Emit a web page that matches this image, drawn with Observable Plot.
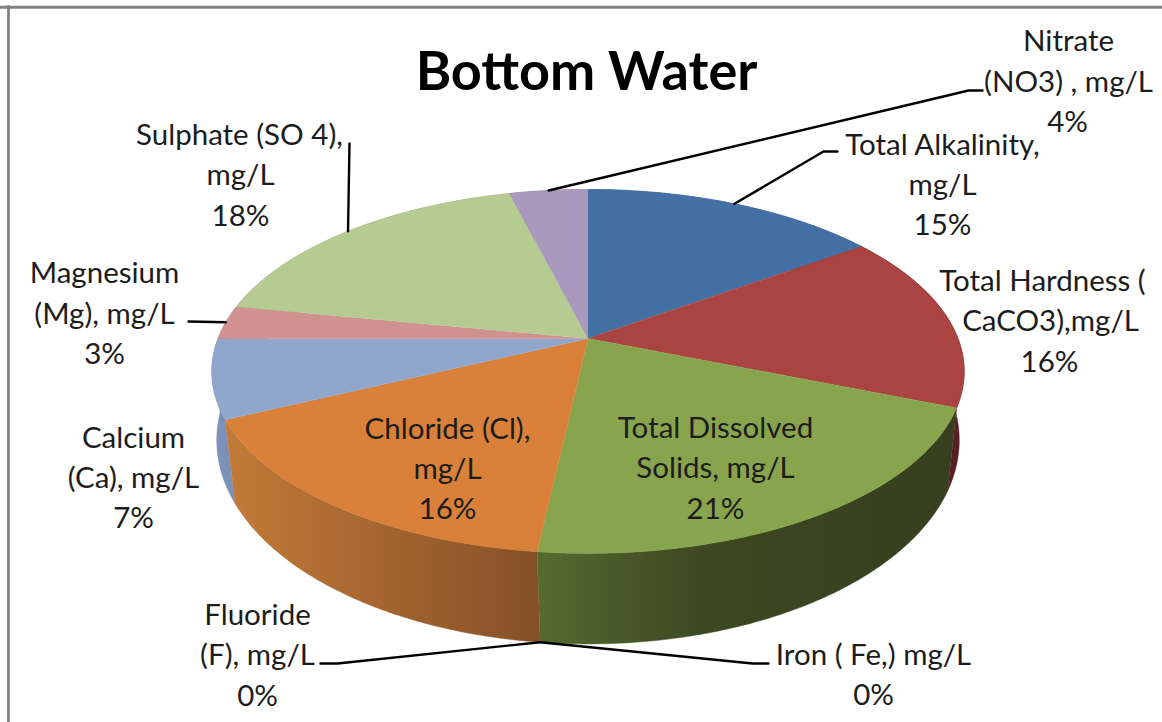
<!DOCTYPE html>
<html>
<head>
<meta charset="utf-8">
<style>html,body{margin:0;padding:0;background:#fff}svg{display:block}</style>
<script src="https://cdn.jsdelivr.net/npm/d3@7"></script>
<script src="https://cdn.jsdelivr.net/npm/@observablehq/plot@0.6"></script>
</head>
<body>
<script>
// Data
const categories = ["Total Alkalinity, mg/L","Total Hardness ( CaCO3),mg/L","Total Dissolved Solids, mg/L","Iron ( Fe,) mg/L","Fluoride (F), mg/L","Chloride (Cl), mg/L","Calcium (Ca), mg/L","Magnesium (Mg), mg/L","Sulphate (SO 4), mg/L","Nitrate (NO3) , mg/L"];
const percents = [15.2,15.8,20.8,0,0,16.2,7,3,18,4];
const topColors = ["#4471a5","#a94442","#88a54d","#6f8a3f","#b9713a","#d9813b","#90a7cd","#d09191","#b6cb92","#a899bd"];
const wallColors = ["#34557c","#5a1f22","url(#wallGreen)","#4c5f2e","#8a5227","url(#wallOrange)","#7c91b8","#a87776","#8fa070","#83769a"];

// Layout (pie projection and label placement, in chart pixels)
const W = 1162, H = 722;
const topFace = {cx:587.5, cy:338, a:370, b:176, k:0.181};
const baseFace = {cx:587.5, cy:413, a:368, b:200, k:0.132};
const labelLines = [
  ["Nitrate",1068,41],["(NO3) , mg/L",1068,82],["4%",1067,122],
  ["Total Alkalinity,",942,145],["mg/L",942,185],["15%",942,225],
  ["Total Hardness (",1042,281],["CaCO3),mg/L",1050,321],["16%",1049,362],
  ["Sulphate (SO 4),",239,135],["mg/L",240,175],["18%",240,216],
  ["Magnesium",104,273],["(Mg), mg/L",104,314],["3%",104,354],
  ["Calcium",133,438],["(Ca), mg/L",133,478],["7%",133,518],
  ["Chloride (Cl),",447,429],["mg/L",447,469],["16%",447,509],
  ["Total Dissolved",715,428],["Solids, mg/L",715,468],["21%",715,509],
  ["Fluoride",257,615],["(F), mg/L",257,655],["0%",257,696],
  ["Iron ( Fe,) mg/L",873,655],["0%",873,695]
];
// leader: wedge index, face the leader starts on, then elbow points
const leaders = [
  {i:9, face:topFace, pts:[[968,90],[982,90]]},
  {i:0, face:topFace, pts:[[823,151],[837,151]]},
  {i:8, face:topFace, pts:[[349,143]]},
  {i:7, face:topFace, pts:[[188,321]]},
  {i:4, face:baseFace, pts:[[337,663],[320,663]]},
  {i:3, face:baseFace, pts:[[752,663],[768,663]]}
];

// Geometry derived from the values
const project = (f, t) => {
  const s = Math.sin(t), c = Math.cos(t), d = 1 + f.k * c;
  return {x: f.cx + f.a * s / d, y: f.cy - f.b * c / d};
};
let acc = 0;
const wedges = percents.map((v, i) => {
  const a0 = acc / 100 * 2 * Math.PI;
  acc += v;
  return {i, a0, a1: acc / 100 * 2 * Math.PI, mid: (a0 + acc / 100 * 2 * Math.PI) / 2};
});
const arc = (f, a0, a1) => {
  const n = Math.max(1, Math.ceil((a1 - a0) / 0.01));
  return d3.range(n + 1).map(j => project(f, a0 + (a1 - a0) * j / n));
};
const faces = wedges.filter(w => w.a1 > w.a0).map(w => ({
  i: w.i, pts: [{x: topFace.cx, y: topFace.cy}, ...arc(topFace, w.a0, w.a1)]
}));
const walls = wedges.filter(w => w.a1 > w.a0).map(w => ({
  i: w.i, pts: [...arc(topFace, w.a0, w.a1), ...arc(baseFace, w.a0, w.a1).reverse()]
}));
const wallOrder = [8,9,0,7,1,6,2,5];
const leaderPaths = leaders.map(l => [project(l.face, wedges[l.i].mid), ...l.pts.map(([x, y]) => ({x, y}))]);

const plot = Plot.plot({
  width: W, height: H, margin: 0,
  x: {domain: [0, W], range: [0, W], axis: null},
  y: {domain: [0, H], range: [0, H], axis: null},
  style: {background: "#fff", fontFamily: "Lato, sans-serif"},
  marks: [
    Plot.ruleY([6.8], {stroke: "#808080", strokeWidth: 3}),
    Plot.ruleX([8], {y1: 5.3, y2: H, stroke: "#808080", strokeWidth: 2.8}),
    ...wallOrder.map(i => walls.find(w => w.i === i)).map(w =>
      Plot.line(w.pts, {x: "x", y: "y", fill: wallColors[w.i], stroke: wallColors[w.i], strokeWidth: 0.5})),
    ...faces.map(w =>
      Plot.line(w.pts, {x: "x", y: "y", fill: topColors[w.i], stroke: topColors[w.i], strokeWidth: 0.5})),
    ...leaderPaths.map(p => Plot.line(p, {x: "x", y: "y", stroke: "#000", strokeWidth: 2.4})),
    Plot.text(labelLines, {x: d => d[1], y: d => d[2], text: d => d[0], fontSize: 29.5, fill: "#1c1c1c", textAnchor: "middle"}),
    Plot.text(["Bottom Water"], {x: [586], y: [72], text: d => d, fontSize: 54, fontWeight: 700, fill: "#000", textAnchor: "middle"})
  ]
});

// Shaded wall gradients
const ns = "http://www.w3.org/2000/svg";
const defs = document.createElementNS(ns, "defs");
const addGrad = (id, x1, x2, stops) => {
  const g = document.createElementNS(ns, "linearGradient");
  g.setAttribute("id", id);
  g.setAttribute("gradientUnits", "userSpaceOnUse");
  g.setAttribute("x1", x1); g.setAttribute("x2", x2);
  g.setAttribute("y1", 0); g.setAttribute("y2", 0);
  stops.forEach(([o, c]) => {
    const s = document.createElementNS(ns, "stop");
    s.setAttribute("offset", o); s.setAttribute("stop-color", c);
    g.appendChild(s);
  });
  defs.appendChild(g);
};
addGrad("wallOrange", 225, 538, [[0, "#c27a38"], [1, "#855027"]]);
addGrad("wallGreen", 538, 950, [[0, "#556a30"], [0.4, "#3c4822"], [1, "#373f1e"]]);
plot.insertBefore(defs, plot.firstChild);
document.body.appendChild(plot);
</script>
</body>
</html>
